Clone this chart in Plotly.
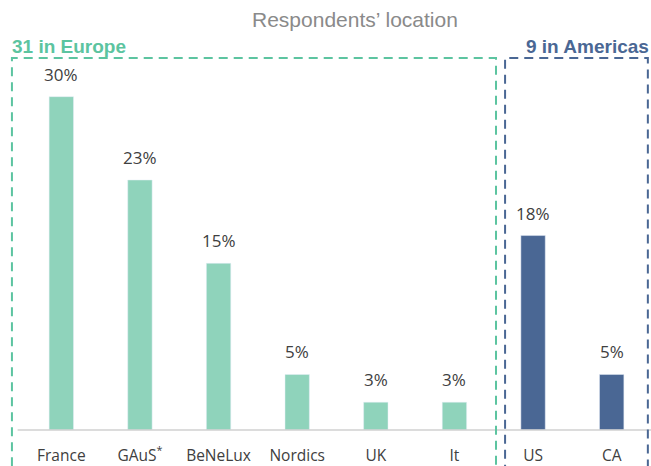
import plotly.graph_objects as go

categories = ["France", "GAuS<sup>*</sup>", "BeNeLux", "Nordics", "UK", "It", "US", "CA"]
values = [0.30, 0.225, 0.15, 0.05, 0.025, 0.025, 0.175, 0.05]
labels = ["30%", "23%", "15%", "5%", "3%", "3%", "18%", "5%"]
regions = ["Europe"] * 6 + ["Americas"] * 2

GREEN = "#8fd3bb"
BLUE = "#4a6794"
colors = [GREEN if r == "Europe" else BLUE for r in regions]

fig = go.Figure()
fig.add_trace(go.Bar(
    x=list(range(len(categories))), y=values, marker_color=colors, width=0.31,
    hoverinfo="skip",
))
for i, (v, t) in enumerate(zip(values, labels)):
    fig.add_annotation(x=i, y=v, text=t, showarrow=False, yanchor="bottom", yshift=9,
                       font=dict(family="Open Sans", size=17, color="#404040"))

fig.update_layout(
    width=651, height=466,
    margin=dict(l=22, r=0, t=50, b=34),
    plot_bgcolor="white", paper_bgcolor="white",
    showlegend=False,
    xaxis=dict(range=[-0.5, 7.5], tickmode="array", tickvals=list(range(len(categories))),
               ticktext=categories, showgrid=False, zeroline=False, showline=False,
               tickfont=dict(family="Open Sans", size=15.5, color="#404040"), ticks="",
               ticklabelstandoff=14),
    yaxis=dict(range=[0, 0.342], visible=False),
)

# baseline
fig.add_shape(type="line", xref="paper", yref="paper", x0=-0.007, x1=1, y0=0, y1=0,
              line=dict(color="#d0d0d0", width=1.5))

# dashed region boxes
fig.add_shape(type="rect", xref="paper", yref="paper", x0=-0.016, x1=0.7536, y0=-0.12, y1=0.979,
              line=dict(color="#5cc4a0", width=2, dash="9px,6px"), fillcolor="rgba(0,0,0,0)")
fig.add_shape(type="rect", xref="paper", yref="paper", x0=0.768, x1=0.995, y0=-0.12, y1=0.979,
              line=dict(color=BLUE, width=2, dash="9px,6px"), fillcolor="rgba(0,0,0,0)")

fig.add_annotation(xref="paper", yref="paper", x=0.53, y=1.08, text="Respondents’ location",
                   showarrow=False, font=dict(family="Liberation Sans", size=21, color="#8a8a8a"),
                   xanchor="center", yanchor="middle")
fig.add_annotation(xref="paper", yref="paper", x=-0.019, y=0.976, text="<b>31 in Europe</b>",
                   showarrow=False, font=dict(family="Liberation Sans", size=19, color="#5cc4a0"),
                   xanchor="left", yanchor="bottom")
fig.add_annotation(xref="paper", yref="paper", x=1.0, y=0.976, text="<b>9 in Americas</b>",
                   showarrow=False, font=dict(family="Liberation Sans", size=19, color=BLUE),
                   xanchor="right", yanchor="bottom")

fig.write_html("out.html", config={"displayModeBar": False},
               post_script="document.body.style.margin='0';document.body.style.overflow='hidden';")
